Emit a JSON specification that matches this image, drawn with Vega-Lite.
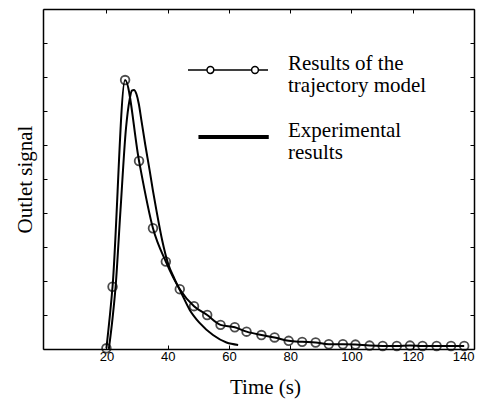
{
  "$schema": "https://vega.github.io/schema/vega-lite/v6.json",
  "width": 431,
  "height": 340,
  "autosize": {"type": "none"},
  "padding": {"left": 43, "top": 9, "right": 15, "bottom": 51},
  "background": "white",
  "config": {
    "view": {"stroke": null},
    "axis": {
      "grid": false,
      "domainColor": "black",
      "domainWidth": 1.5,
      "tickColor": "black",
      "tickWidth": 1,
      "tickSize": -4,
      "labelFont": "Liberation Sans",
      "labelFontSize": 13,
      "labelColor": "black",
      "titleFont": "Liberation Serif",
      "titleFontSize": 21,
      "titleFontWeight": "normal",
      "titleColor": "black"
    }
  },
  "datasets": {
    "curves": [
      {"series": "Results of the trajectory model", "t": 20.0, "s": 0.02},
      {"series": "Results of the trajectory model", "t": 22.0, "s": 1.83},
      {"series": "Results of the trajectory model", "t": 26.1, "s": 7.91},
      {"series": "Results of the trajectory model", "t": 30.65, "s": 5.53},
      {"series": "Results of the trajectory model", "t": 35.2, "s": 3.55},
      {"series": "Results of the trajectory model", "t": 39.4, "s": 2.57},
      {"series": "Results of the trajectory model", "t": 43.95, "s": 1.76},
      {"series": "Results of the trajectory model", "t": 48.6, "s": 1.26},
      {"series": "Results of the trajectory model", "t": 52.9, "s": 1.0},
      {"series": "Results of the trajectory model", "t": 57.25, "s": 0.71},
      {"series": "Results of the trajectory model", "t": 61.9, "s": 0.64},
      {"series": "Results of the trajectory model", "t": 65.75, "s": 0.51},
      {"series": "Results of the trajectory model", "t": 70.6, "s": 0.41},
      {"series": "Results of the trajectory model", "t": 74.9, "s": 0.34},
      {"series": "Results of the trajectory model", "t": 79.5, "s": 0.24},
      {"series": "Results of the trajectory model", "t": 83.9, "s": 0.21},
      {"series": "Results of the trajectory model", "t": 88.3, "s": 0.19},
      {"series": "Results of the trajectory model", "t": 92.6, "s": 0.14},
      {"series": "Results of the trajectory model", "t": 97.2, "s": 0.14},
      {"series": "Results of the trajectory model", "t": 101.3, "s": 0.13},
      {"series": "Results of the trajectory model", "t": 105.9, "s": 0.1},
      {"series": "Results of the trajectory model", "t": 110.2, "s": 0.09},
      {"series": "Results of the trajectory model", "t": 114.8, "s": 0.09},
      {"series": "Results of the trajectory model", "t": 119.1, "s": 0.1},
      {"series": "Results of the trajectory model", "t": 123.2, "s": 0.09},
      {"series": "Results of the trajectory model", "t": 127.8, "s": 0.09},
      {"series": "Results of the trajectory model", "t": 132.5, "s": 0.09},
      {"series": "Results of the trajectory model", "t": 136.8, "s": 0.09},
      {"series": "Experimental results", "t": 20.8, "s": 0.0},
      {"series": "Experimental results", "t": 22.0, "s": 0.9},
      {"series": "Experimental results", "t": 23.0, "s": 1.83},
      {"series": "Experimental results", "t": 24.6, "s": 4.09},
      {"series": "Experimental results", "t": 26.4, "s": 6.5},
      {"series": "Experimental results", "t": 27.6, "s": 7.35},
      {"series": "Experimental results", "t": 28.3, "s": 7.6},
      {"series": "Experimental results", "t": 29.0, "s": 7.62},
      {"series": "Experimental results", "t": 29.8, "s": 7.5},
      {"series": "Experimental results", "t": 30.6, "s": 7.2},
      {"series": "Experimental results", "t": 31.4, "s": 6.74},
      {"series": "Experimental results", "t": 32.7, "s": 6.0},
      {"series": "Experimental results", "t": 34.1, "s": 5.26},
      {"series": "Experimental results", "t": 35.2, "s": 4.65},
      {"series": "Experimental results", "t": 36.3, "s": 4.09},
      {"series": "Experimental results", "t": 38.2, "s": 3.2},
      {"series": "Experimental results", "t": 40.1, "s": 2.52},
      {"series": "Experimental results", "t": 42.3, "s": 2.05},
      {"series": "Experimental results", "t": 44.5, "s": 1.64},
      {"series": "Experimental results", "t": 47.2, "s": 1.15},
      {"series": "Experimental results", "t": 50.5, "s": 0.76},
      {"series": "Experimental results", "t": 54.8, "s": 0.41},
      {"series": "Experimental results", "t": 59.2, "s": 0.19},
      {"series": "Experimental results", "t": 63.0, "s": 0.12}
    ]
  },
  "data": {"name": "curves"},
  "layer": [
    {
      "mark": {"type": "line", "interpolate": "monotone", "strokeWidth": 2},
      "encoding": {
        "x": {
          "field": "t", "type": "quantitative",
          "scale": {"domain": [-0.7, 140], "nice": false, "zero": false},
          "axis": {
            "values": [20, 40, 60, 80, 100, 120, 140],
            "title": "Time (s)",
            "labelPadding": 5,
            "titleX": 222,
            "titleY": 44,
            "titleBaseline": "alphabetic",
            "titleAlign": "center",
            "titleAnchor": null
          }
        },
        "y": {
          "field": "s", "type": "quantitative",
          "scale": {"domain": [0, 10], "nice": false},
          "axis": {
            "values": [0, 1, 2, 3, 4, 5, 6, 7, 8, 9, 10],
            "labels": false,
            "title": "Outlet signal",
            "titleX": -12,
            "titleY": 170,
            "titleAngle": -90,
            "titleBaseline": "alphabetic",
            "titleAlign": "center"
          }
        },
        "color": {
          "field": "series", "type": "nominal",
          "scale": {
            "domain": ["Results of the trajectory model", "Experimental results"],
            "range": ["black", "black"]
          },
          "legend": {
            "title": null,
            "orient": "none",
            "legendX": 144,
            "legendY": 20,
            "padding": 0,
            "symbolSize": 6400,
            "symbolStrokeWidth": 1.5,
            "rowPadding": -10,
            "labelOffset": 19,
            "labelLimit": 0,
            "labelFont": "Liberation Serif",
            "labelFontSize": 21,
            "labelColor": "black",
            "labelBaseline": "alphabetic",
            "labelExpr": "datum.value === 'Experimental results' ? ['Experimental', 'results'] : ['Results of the', 'trajectory model']",
            "encode": {
              "symbols": {
                "update": {
                  "shape": {"signal": "datum.value === 'Experimental results' ? 'M-0.72,-0.03H1V0.03H-0.72Z' : 'M-1,0H-0.525M-0.355,0H0.59M0.76,0H1M-0.525,0A0.085,0.085 0 1,0 -0.355,0A0.085,0.085 0 1,0 -0.525,0M0.59,0A0.085,0.085 0 1,0 0.76,0A0.085,0.085 0 1,0 0.59,0'"},
                  "strokeWidth": {"value": 1.5},
                  "stroke": {"value": "black"},
                  "fill": {"signal": "datum.value === 'Experimental results' ? 'black' : 'transparent'"},
                  "size": {"value": 6400}
                }
              },
              "labels": {
                "update": {"lineHeight": {"value": 22}}
              }
            }
          }
        }
      }
    },
    {
      "transform": [{"filter": "datum.series === 'Results of the trajectory model'"}],
      "mark": {"type": "point", "shape": "circle", "filled": false, "size": 75, "stroke": "black", "strokeWidth": 1.8},
      "encoding": {
        "x": {"field": "t", "type": "quantitative", "axis": null},
        "y": {"field": "s", "type": "quantitative", "axis": null}
      }
    },
    {
      "mark": {"type": "rule", "opacity": 0},
      "encoding": {
        "x": {
          "field": "t", "type": "quantitative",
          "axis": {"orient": "top", "values": [20, 40, 60, 80, 100, 120, 140], "labels": false, "title": null}
        },
        "y": {
          "field": "s", "type": "quantitative",
          "axis": {"orient": "right", "values": [0, 1, 2, 3, 4, 5, 6, 7, 8, 9, 10], "labels": false, "title": null}
        }
      }
    }
  ],
  "resolve": {"axis": {"x": "independent", "y": "independent"}}
}
